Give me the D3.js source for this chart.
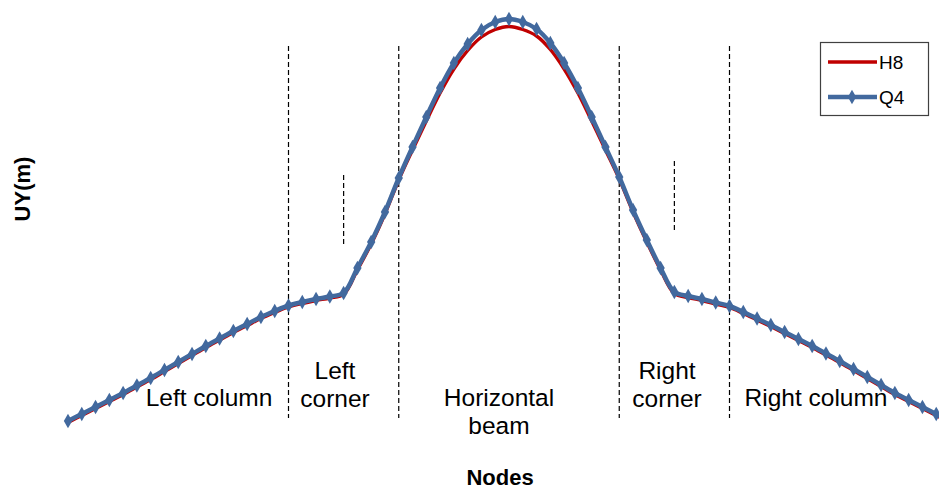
<!DOCTYPE html>
<html><head><meta charset="utf-8">
<script src="https://cdn.jsdelivr.net/npm/d3@7"></script>
<style>body{margin:0;background:#fff}</style>
</head><body>
<svg id="chart" width="939" height="491"></svg>
<script>
// Node numbers (x categories)
const nodes = [0,1,2,3,4,5,6,7,8,9,10,11,12,13,14,15,16,17,18,19,20,21,22,23,24,25,26,27,28,29,30,31,32,
  33,34,35,36,37,38,39,40,41,42,43,44,45,46,47,48,49,50,51,52,53,54,55,56,57,58,59,60,61,62,63,64];
// UY (m) for each node
const q4 = [0.009,0.016,0.023,0.030,0.037,0.0445,0.052,0.060,0.068,0.076,0.084,0.0915,0.099,0.106,0.113,0.119,0.1245,
  0.128,0.131,0.1335,0.137,0.162,0.188,0.218,0.252,0.283,0.313,0.342,0.367,0.386,0.400,0.408,0.411,
  0.408,0.401,0.387,0.367,0.342,0.313,0.283,0.253,0.220,0.190,0.162,0.138,0.134,0.131,0.1275,0.124,
  0.118,0.1115,0.105,0.098,0.091,0.084,0.0765,0.069,0.061,0.053,0.045,0.037,0.030,0.023,0.016,0.009];
const h8 = [0.0075,0.0145,0.0215,0.0285,0.0355,0.043,0.0505,0.0585,0.0665,0.0745,0.0825,0.090,0.0975,0.1045,0.1115,0.1175,0.123,
  0.1265,0.1295,0.132,0.1355,0.160,0.186,0.216,0.250,0.280,0.309,0.337,0.361,0.3795,0.393,0.4005,0.4035,
  0.4005,0.394,0.3805,0.361,0.337,0.309,0.280,0.251,0.218,0.188,0.160,0.1365,0.1325,0.1295,0.126,0.1225,
  0.1165,0.110,0.1035,0.0965,0.0895,0.0825,0.075,0.0675,0.0595,0.0515,0.0435,0.0355,0.0285,0.0215,0.0145,0.0075];
const seriesNames = ["H8","Q4"];
// region boundaries (node numbers) and mid-region marks
const boundaries = [16,24,40,48];
const midMarks = [20,44];
const regionLabels = [
  {lines:["Left column"], x:209},
  {lines:["Left","corner"], x:335},
  {lines:["Horizontal","beam"], x:499},
  {lines:["Right","corner"], x:667},
  {lines:["Right column"], x:816}
];

const svg = d3.select("#chart");
const x = d3.scaleLinear().domain([0,64]).range([68,950]);
const y = d3.scaleLinear().domain([0,0.42]).range([430,10]);

const RED = "#C00000", BLUE = "#42699E";
const font = "'Liberation Sans', Arial, sans-serif";

// dashed boundaries
svg.append("g").selectAll("line").data(boundaries).join("line")
  .attr("x1", d=>x(d)).attr("x2", d=>x(d))
  .attr("y1", 46).attr("y2", 418)
  .attr("stroke","#000").attr("stroke-width",1.2).attr("stroke-dasharray","5,3");
svg.append("g").selectAll("line").data(midMarks).join("line")
  .attr("x1", d=>x(d)).attr("x2", d=>x(d))
  .attr("y1", (d,i)=> i===0?175:161).attr("y2", (d,i)=> i===0?245:231)
  .attr("stroke","#000").attr("stroke-width",1.2).attr("stroke-dasharray","5,3");

svg.append("defs").append("clipPath").attr("id","plotclip")
  .append("rect").attr("x",0).attr("y",0).attr("width",939).attr("height",491);

const line = d3.line().x(d=>x(d[0])).y(d=>y(d[1])).curve(d3.curveCatmullRom.alpha(0.5));
const g = svg.append("g").attr("clip-path","url(#plotclip)");
g.append("path").datum(nodes.map((n,i)=>[n,h8[i]]))
  .attr("d", line).attr("fill","none").attr("stroke",RED).attr("stroke-width",3.4);
g.append("path").datum(nodes.map((n,i)=>[n,q4[i]]))
  .attr("d", line).attr("fill","none").attr("stroke",BLUE).attr("stroke-width",4.5);
const diamond = d3.symbol().type(d3.symbolDiamond).size(60);
g.selectAll("path.mk").data(nodes.map((n,i)=>[n,q4[i]])).join("path").attr("class","mk")
  .attr("d", diamond).attr("transform", d=>`translate(${x(d[0])},${y(d[1])})`)
  .attr("fill",BLUE);

// region labels
regionLabels.forEach(r=>{
  const n = r.lines.length;
  r.lines.forEach((t,k)=>{
    svg.append("text").attr("x", r.x)
      .attr("y", n===1 ? 406 : (k===0 ? 379 : 407) + (r.lines[0]==="Horizontal"? 27:0))
      .attr("text-anchor","middle").attr("font-family",font).attr("font-size",24.5)
      .attr("fill","#000").text(t);
  });
});

// axis titles
svg.append("text").attr("x",500).attr("y",485).attr("text-anchor","middle")
  .attr("font-family",font).attr("font-size",22).attr("font-weight","bold").text("Nodes");
svg.append("text").attr("transform","translate(30,189) rotate(-90)").attr("text-anchor","middle")
  .attr("font-family",font).attr("font-size",22).attr("font-weight","bold").text("UY(m)");

// legend
const lg = svg.append("g");
lg.append("rect").attr("x",820.5).attr("y",42.5).attr("width",108).attr("height",73)
  .attr("fill","#fff").attr("stroke","#404040").attr("stroke-width",1.2);
seriesNames.forEach((s,i)=>{
  const yy = 62 + i*35;
  const c = i===0?RED:BLUE;
  lg.append("line").attr("x1",828).attr("x2",877).attr("y1",yy).attr("y2",yy)
    .attr("stroke",c).attr("stroke-width",i===0?3.5:4.5);
  if(i===1) lg.append("path").attr("d",diamond).attr("transform",`translate(852,${yy})`).attr("fill",c);
  lg.append("text").attr("x",879).attr("y",yy+7).attr("font-family",font).attr("font-size",19)
    .attr("fill","#000").text(s);
});
</script>
</body></html>
